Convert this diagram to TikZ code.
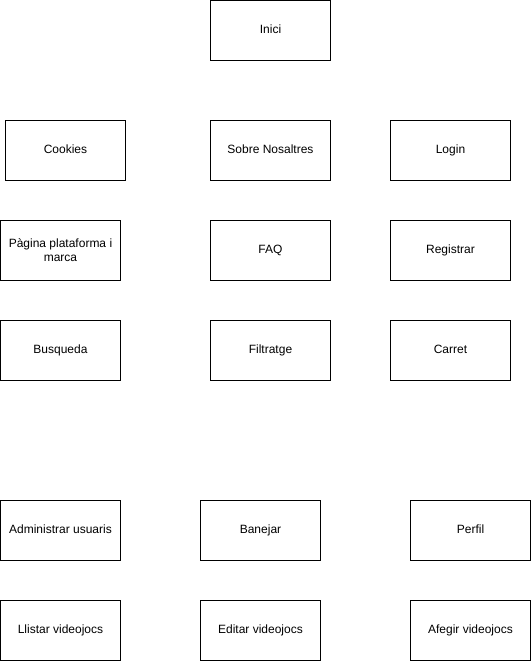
\documentclass[tikz,border=0pt]{standalone}
\usepackage{fontspec}
\setmainfont{Liberation Sans}
\tikzset{every picture/.style={line width=0.75pt}}
\tikzset{pagebox/.style={draw, minimum width=90pt, minimum height=45pt, inner sep=0.75pt, outer sep=0pt, align=center, font=\fontsize{9}{10.5}\selectfont}}

\begin{document}
\begin{tikzpicture}[x=0.75pt,y=0.75pt,yscale=-1,xscale=1]
        \useasboundingbox (0,0) rectangle (531,661);

        % Top
        \node [pagebox] (inici) at (270.5,30.5) {\strut Inici};

        % Row 1
        \node [pagebox] (cookies) at (65.5,150.5) {\strut Cookies};
        \node [pagebox] (sobre) at (270.5,150.5) {\strut Sobre Nosaltres};
        \node [pagebox] (login) at (450.5,150.5) {\strut Login};

        % Row 2
        \node [pagebox] (pagina) at (60.5,250.5) {Pàgina plataforma i\\marca};
        \node [pagebox] (faq) at (270.5,250.5) {\strut FAQ};
        \node [pagebox] (registrar) at (450.5,250.5) {\strut Registrar};

        % Row 3
        \node [pagebox] (busqueda) at (60.5,350.5) {\strut Busqueda};
        \node [pagebox] (filtratge) at (270.5,350.5) {\strut Filtratge};
        \node [pagebox] (carret) at (450.5,350.5) {\strut Carret};

        % Admin rows
        \node [pagebox] (admin) at (60.5,530.5) {\strut Administrar usuaris};
        \node [pagebox] (banejar) at (260.5,530.5) {\strut Banejar};
        \node [pagebox] (perfil) at (470.5,530.5) {\strut Perfil};

        \node [pagebox] (llistar) at (60.5,630.5) {\strut Llistar videojocs};
        \node [pagebox] (editar) at (260.5,630.5) {\strut Editar videojocs};
        \node [pagebox] (afegir) at (470.5,630.5) {\strut Afegir videojocs};
\end{tikzpicture}
\end{document}
